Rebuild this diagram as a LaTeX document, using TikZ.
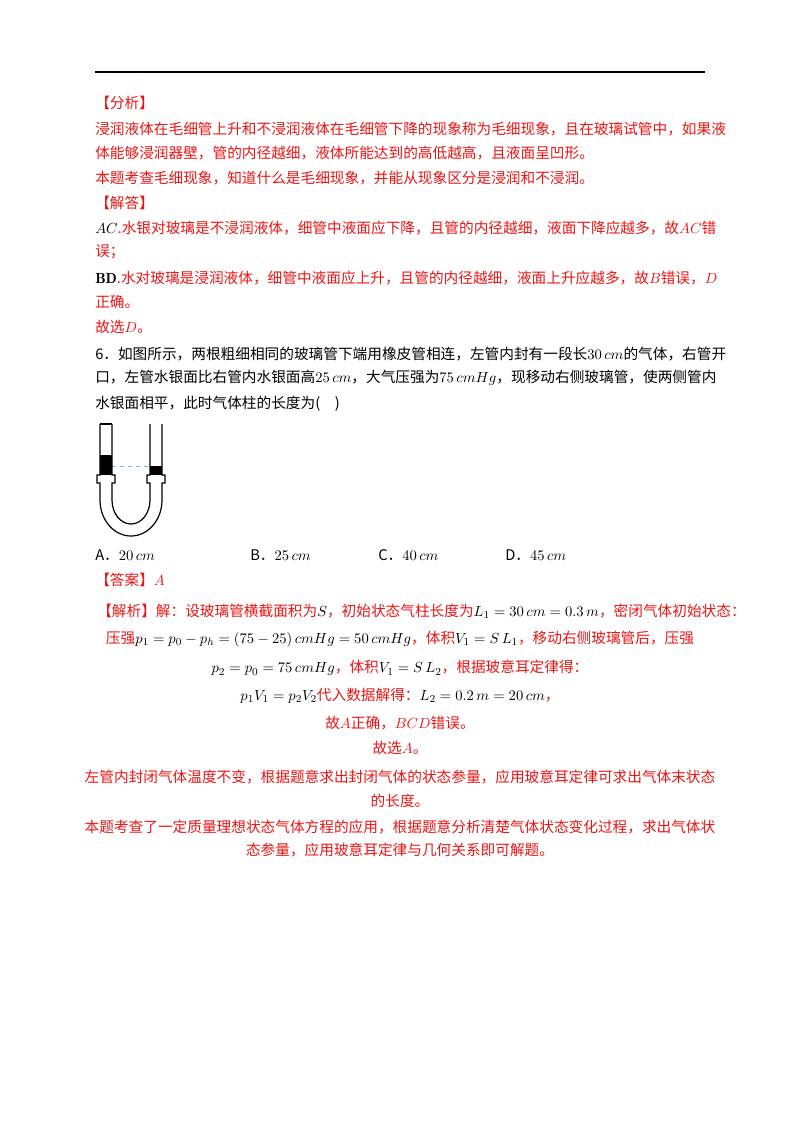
\documentclass[tikz,border=0pt]{standalone}
\usepackage{fontspec}
\newfontfamily\cjk{Noto Sans CJK SC}
\definecolor{rd}{RGB}{235,20,20}
\definecolor{dashblue}{RGB}{120,190,230}
\begin{document}
\begin{tikzpicture}[x=0.75pt,y=-0.75pt,
  t/.style={anchor=west,inner sep=0pt,font=\cjk\fontsize{11}{13}\selectfont},
  r/.style={t,text=rd},
  c/.style={anchor=center,inner sep=0pt,font=\cjk\fontsize{11}{13}\selectfont,text=rd},
  tube/.style={line width=0.9pt}]
\useasboundingbox (0,0) rectangle (800,1132);
\draw[line width=0.8pt] (95,72) -- (705,72);
\node[r] (a1) at (95,103) {【分析】};
\node[r] (a2) at (95,129) {浸润液体在毛细管上升和不浸润液体在毛细管下降的现象称为毛细现象，且在玻璃试管中，如果液};
\node[r] (a3) at (95,153) {体能够浸润器壁，管的内径越细，液体所能达到的高低越高，且液面呈凹形。};
\node[r] (a4) at (95,178) {本题考查毛细现象，知道什么是毛细现象，并能从现象区分是浸润和不浸润。};
\node[r] (a5) at (95,203) {【解答】};
\node[r] (a6) at (95,228) {\textcolor{black}{$AC$}.水银对玻璃是不浸润液体，细管中液面应下降，且管的内径越细，液面下降应越多，故$AC$错};
\node[r] (a7) at (95,252) {误；};
\node[r] (a8) at (95,278) {\textcolor{black}{$\mathbf{BD}$}.水对玻璃是浸润液体，细管中液面应上升，且管的内径越细，液面上升应越多，故$B$错误，$D$};
\node[r] (a9) at (95,302) {正确。};
\node[r] (a10) at (95,327) {故选$D$。};
\node[t] (q1) at (95,354) {6．如图所示，两根粗细相同的玻璃管下端用橡皮管相连，左管内封有一段长$30\,cm$的气体，右管开};
\node[t] (q2) at (95,378) {口，左管水银面比右管内水银面高$25\,cm$，大气压强为$75\,cmHg$，现移动右侧玻璃管，使两侧管内};
\node[t] (q3) at (95,404) {水银面相平，此时气体柱的长度为(\quad)};
% diagram
\fill (100,455) rectangle (112,475);
\fill (150,466) rectangle (162,475);
\draw[dashblue,dashed,line width=0.6pt] (112,466) -- (150,466);
\draw[tube] (100,424) -- (100,475) -- (97,475) -- (97,483) -- (100,483) -- (100,500)
  arc[start angle=180,end angle=0,x radius=31,y radius=36] -- (162,483) -- (165,483) -- (165,475) -- (162,475) -- (162,424);
\draw[tube] (112,424) -- (112,475) -- (115,475) -- (115,483) -- (112,483) -- (112,500)
  arc[start angle=180,end angle=0,x radius=19,y radius=24] -- (150,483) -- (147,483) -- (147,475) -- (150,475) -- (150,424);
\draw[tube] (100,424) -- (112,424);
\node[t] (o1) at (95,555) {A．$20\,cm$};
\node[t] (o2) at (250,555) {B．$25\,cm$};
\node[t] (o3) at (378,555) {C．$40\,cm$};
\node[t] (o4) at (505,555) {D．$45\,cm$};
\node[r] (b1) at (95,580) {【答案】$A$};
\node[r] (b2) at (97,611) {【解析】解：设玻璃管横截面积为\textcolor{black}{$S$}，初始状态气柱长度为\textcolor{black}{$L_1=30\,cm=0.3\,m$}，密闭气体初始状态：};
\node[c] (b3) at (400,639) {压强\textcolor{black}{$p_1=p_0-p_h=(75-25)\,cmHg=50\,cmHg$}，体积\textcolor{black}{$V_1=S\,L_1$}，移动右侧玻璃管后，压强};
\node[c] (b4) at (400,668) {\textcolor{black}{$p_2=p_0=75\,cmHg$}，体积\textcolor{black}{$V_1=S\,L_2$}，根据玻意耳定律得：};
\node[c] (b5) at (400,696) {\textcolor{black}{$p_1V_1=p_2V_2$}代入数据解得：\textcolor{black}{$L_2=0.2\,m=20\,cm$}，};
\node[c] (b6) at (400,723) {故$A$正确，$BCD$错误。};
\node[c] (b7) at (400,748) {故选$A$。};
\node[c] (b8) at (400,777) {左管内封闭气体温度不变，根据题意求出封闭气体的状态参量，应用玻意耳定律可求出气体末状态};
\node[c] (b9) at (400,801) {的长度。};
\node[c] (b10) at (400,827) {本题考查了一定质量理想状态气体方程的应用，根据题意分析清楚气体状态变化过程，求出气体状};
\node[c] (b11) at (400,850) {态参量，应用玻意耳定律与几何关系即可解题。};
\end{tikzpicture}
\end{document}
